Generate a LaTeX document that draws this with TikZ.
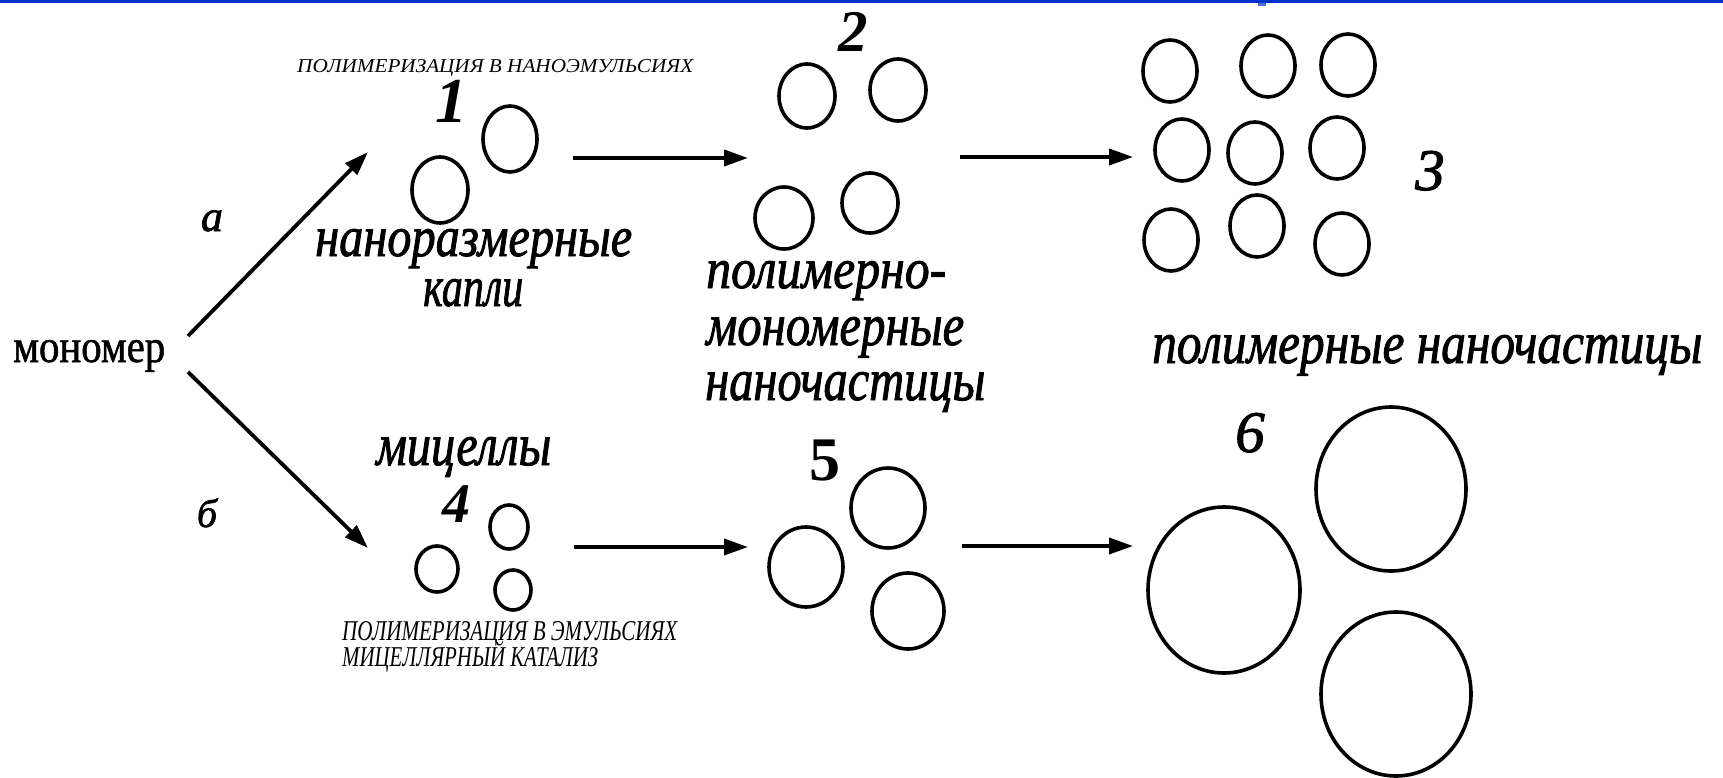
\documentclass[tikz,border=0pt]{standalone}
\usepackage{fontspec}
\setmainfont{Liberation Serif}[ItalicFont={Liberation Serif Italic},BoldFont={Liberation Serif Bold},BoldItalicFont={Liberation Serif Bold Italic}]
\newfontfamily\labit{Liberation Serif}[ItalicFont={Liberation Serif Italic},FakeBold=1.6]
\newfontfamily\heavyrm{Liberation Serif}[FakeBold=1.2]
\usetikzlibrary{arrows.meta}
\newcommand{\fitto}[3]{\resizebox{#1pt}{#2pt}{#3}}
\definecolor{topblue}{RGB}{0,51,204}
\begin{document}
\begin{tikzpicture}[x=1pt,y=-1pt,
  blob/.style={line width=3.6pt},
  flow/.style={line width=3.8pt,-{Triangle[length=24pt,width=16pt]}},
  lbl/.style={inner sep=0pt,anchor=base west},
  num/.style={inner sep=0pt,anchor=base},
]
\useasboundingbox (0,0) rectangle (1723,778);
\fill[white] (0,0) rectangle (1723,778);
\fill[topblue] (0,0) rectangle (1723,3);
\fill[topblue!70] (1258,3) rectangle (1266,6);

% texts
\node[lbl] (mono) at (13,362) {\fitto{152}{22}{\heavyrm мономер}};
\node[num] (la) at (212,231) {\fontsize{44}{44}\selectfont\labit\itshape а};
\node[num] (lb) at (207,527) {\fontsize{40}{40}\selectfont\labit\itshape б};

\node[lbl] (tnano) at (297,73) {\fitto{396}{13}{\itshape ПОЛИМЕРИЗАЦИЯ В НАНОЭМУЛЬСИЯХ}};
\node[num] (n1) at (451,123) {\fontsize{64}{64}\selectfont\bfseries\itshape 1};
\node[lbl] (drops1) at (315,256) {\fitto{317}{27}{\labit\itshape наноразмерные}};
\node[lbl] (drops2) at (423,306) {\fitto{100}{27}{\labit\itshape капли}};

\node[num] (n2) at (853,52) {\fontsize{59}{59}\selectfont\bfseries\itshape 2};
\node[lbl] (pm1) at (706,288) {\fitto{240}{27}{\labit\itshape полимерно-}};
\node[lbl] (pm2) at (706,345) {\fitto{258}{28}{\labit\itshape мономерные}};
\node[lbl] (pm3) at (705,400) {\fitto{280}{28}{\labit\itshape наночастицы}};

\node[num] (n3) at (1430,190) {\fontsize{59}{59}\selectfont\labit\itshape 3};
\node[lbl] (poly) at (1152,363) {\fitto{550}{28}{\labit\itshape полимерные наночастицы}};

\node[lbl] (mic) at (376,465) {\fitto{175}{28}{\labit\itshape мицеллы}};
\node[num] (n4) at (456,522) {\fontsize{56}{56}\selectfont\bfseries\itshape 4};
\node[lbl] (temu1) at (342,640) {\fitto{335}{19}{\itshape ПОЛИМЕРИЗАЦИЯ В ЭМУЛЬСИЯХ}};
\node[lbl] (temu2) at (342,666) {\fitto{256}{19}{\itshape МИЦЕЛЛЯРНЫ\smash{Й} КАТАЛИЗ}};

\node[num] (n5) at (825,480) {\fontsize{62}{62}\selectfont\bfseries 5};
\node[num] (n6) at (1250,452) {\fontsize{59}{59}\selectfont\labit\itshape 6};

% particles
\draw[blob] (510,139) ellipse [x radius=27,y radius=33];
\draw[blob] (440,190) ellipse [x radius=28,y radius=33];

\draw[blob] (807,96) ellipse [x radius=28,y radius=32];
\draw[blob] (898,90) ellipse [x radius=28,y radius=31];
\draw[blob] (784,218) ellipse [x radius=29,y radius=31];
\draw[blob] (870,203) ellipse [x radius=28,y radius=30];

\draw[blob] (1170,71) ellipse [x radius=27,y radius=31];
\draw[blob] (1268,66) ellipse [x radius=27,y radius=31];
\draw[blob] (1348,65) ellipse [x radius=27,y radius=31];
\draw[blob] (1182,150) ellipse [x radius=27,y radius=31];
\draw[blob] (1255,153) ellipse [x radius=27,y radius=31];
\draw[blob] (1337,148) ellipse [x radius=27,y radius=31];
\draw[blob] (1171,240) ellipse [x radius=27,y radius=31];
\draw[blob] (1257,226) ellipse [x radius=27,y radius=31];
\draw[blob] (1342,244) ellipse [x radius=27,y radius=31];

\draw[blob] (509,527) ellipse [x radius=19,y radius=22];
\draw[blob] (437,569) ellipse [x radius=21,y radius=23];
\draw[blob] (513,590) ellipse [x radius=18,y radius=20];

\draw[blob] (806,567) ellipse [x radius=37,y radius=40];
\draw[blob] (888,508) ellipse [x radius=37,y radius=40];
\draw[blob] (908,611) ellipse [x radius=36,y radius=38];

\draw[blob] (1391,489) ellipse [x radius=75,y radius=82];
\draw[blob] (1224,590) ellipse [x radius=76,y radius=83];
\draw[blob] (1396,694) ellipse [x radius=75,y radius=82];

% arrows
\coordinate (aS) at (188,336);
\coordinate (aE) at (368,152);
\coordinate (bS) at (188,372);
\coordinate (bE) at (368,548);
\coordinate (h1S) at (573,158);
\coordinate (h1E) at (748,158);
\coordinate (h2S) at (960,157);
\coordinate (h2E) at (1133,157);
\coordinate (h3S) at (574,547);
\coordinate (h3E) at (748,547);
\coordinate (h4S) at (962,546);
\coordinate (h4E) at (1133,546);
\draw[flow] (aS) -- (aE);
\draw[flow] (bS) -- (bE);
\draw[flow] (h1S) -- (h1E);
\draw[flow] (h2S) -- (h2E);
\draw[flow] (h3S) -- (h3E);
\draw[flow] (h4S) -- (h4E);
\end{tikzpicture}
\end{document}
